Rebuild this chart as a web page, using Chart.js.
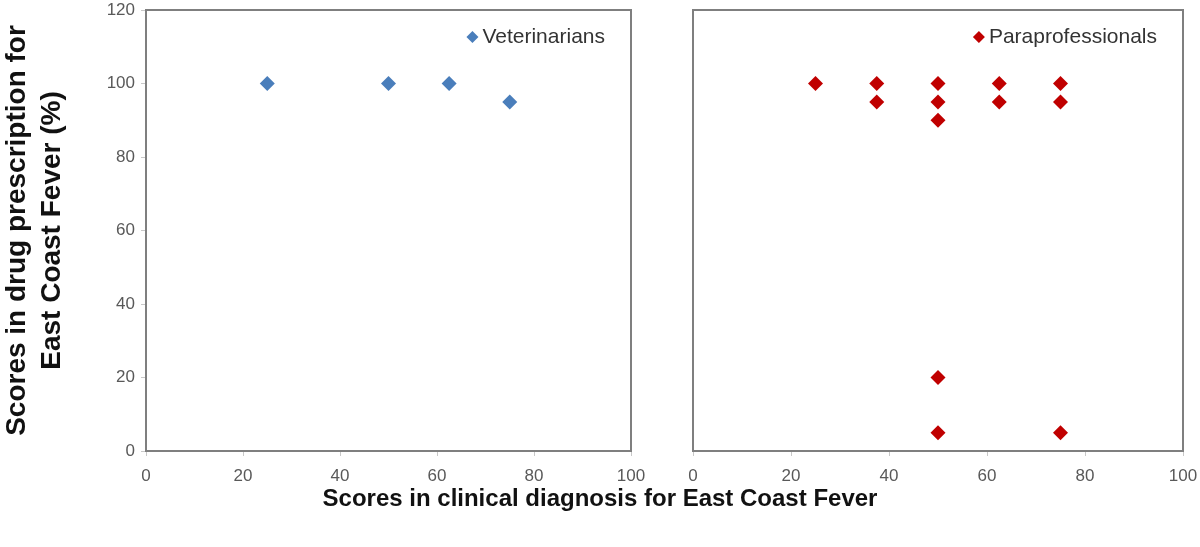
<!DOCTYPE html>
<html>
<head>
<meta charset="utf-8">
<script src="https://cdn.jsdelivr.net/npm/chart.js@4.4.1/dist/chart.umd.min.js"></script>
<style>
  html, body { margin: 0; padding: 0; background: #fff; }
  #wrap { position: relative; width: 1200px; height: 547px; overflow: hidden; }
  #c1 { position: absolute; left: 0; top: 0; }
  #c2 { position: absolute; left: 660px; top: 0; }
  #xtitle { position: absolute; left: 0; width: 1200px; top: 484px; text-align: center;
            font: bold 24px "Liberation Sans", Arial, sans-serif; color: #111; }
</style>
</head>
<body>
<div id="wrap">
  <canvas id="c1" width="650" height="547"></canvas>
  <canvas id="c2" width="540" height="547"></canvas>
  <div id="xtitle">Scores in clinical diagnosis for East Coast Fever</div>
</div>
<script>
// ---- data ----
const vetLabel = "Veterinarians";
const vetX = [25, 50, 62.5, 75];
const vetY = [100, 100, 100, 95];

const paraLabel = "Paraprofessionals";
const paraX = [25, 37.5, 37.5, 50, 50, 50, 62.5, 62.5, 75, 75, 50, 50, 75];
const paraY = [100, 100, 95, 100, 95, 90, 100, 95, 100, 95, 20, 5, 5];

const yTitle = ["Scores in drug prescription for", "East Coast Fever (%)"];
const xMin = 0, xMax = 100, xStep = 20;
const yMin = 0, yMax = 120, yStep = 20;

const FONT = "'Liberation Sans', Arial, sans-serif";
const tickColor = "#595959";
const frameColor = "#7f7f7f";

const framePlugin = {
  id: 'frame',
  afterDatasetsDraw(chart) {
    const a = chart.chartArea, ctx = chart.ctx;
    ctx.save();
    ctx.strokeStyle = frameColor;
    ctx.lineWidth = 2;
    ctx.strokeRect(a.left, a.top, a.right - a.left, a.bottom - a.top);
    ctx.restore();
  }
};

// legend drawn inside the plot, top right
const innerLegend = {
  id: 'innerLegend',
  afterDraw(chart) {
    const a = chart.chartArea, ctx = chart.ctx;
    const ds = chart.data.datasets[0];
    ctx.save();
    ctx.font = '21px ' + FONT;
    ctx.textBaseline = 'middle';
    ctx.textAlign = 'right';
    ctx.fillStyle = '#333';
    const tx = a.right - 26, ty = a.top + 27;
    ctx.fillText(ds.label, tx, ty);
    const w = ctx.measureText(ds.label).width;
    const mx = tx - w - 10, r = 6;
    ctx.fillStyle = ds.backgroundColor;
    ctx.beginPath();
    ctx.moveTo(mx, ty - r); ctx.lineTo(mx + r, ty); ctx.lineTo(mx, ty + r); ctx.lineTo(mx - r, ty);
    ctx.closePath(); ctx.fill();
    ctx.restore();
  }
};

function pts(xs, ys) { return xs.map((x, i) => ({ x: x, y: ys[i] })); }

function makeChart(id, label, xs, ys, color, showY, pad) {
  return new Chart(document.getElementById(id), {
    type: 'scatter',
    data: {
      datasets: [{
        label: label,
        data: pts(xs, ys),
        pointStyle: 'rectRot',
        pointRadius: 7.5,
        pointHoverRadius: 7.5,
        backgroundColor: color,
        borderColor: color,
        borderWidth: 0
      }]
    },
    options: {
      responsive: false,
      animation: false,
      events: [],
      layout: { padding: pad },
      plugins: {
        tooltip: { enabled: false },
        legend: { display: false }
      },
      scales: {
        x: {
          type: 'linear',
          min: xMin, max: xMax,
          ticks: { stepSize: xStep, color: tickColor, padding: 10, font: { family: FONT, size: 17 } },
          grid: { drawOnChartArea: false, tickLength: 5, color: '#c8c8c8' },
          border: { display: false },
          afterFit(s) { s.height = 40; s.paddingLeft = 0; s.paddingRight = 0; }
        },
        y: {
          type: 'linear',
          display: showY,
          min: yMin, max: yMax,
          ticks: { stepSize: yStep, color: tickColor, padding: 6, font: { family: FONT, size: 17 } },
          grid: { drawOnChartArea: false, tickLength: 5, color: '#c8c8c8' },
          border: { display: false },
          title: {
            display: true,
            text: yTitle,
            color: '#111',
            padding: { top: 0, bottom: 0 },
            font: { family: FONT, size: 28, weight: 'bold', lineHeight: 1.25 }
          },
          afterFit(s) {
            if (showY) { s.width = 146; s.paddingTop = 0; s.paddingBottom = 0; }
          }
        }
      }
    },
    plugins: [framePlugin, innerLegend]
  });
}

makeChart('c1', vetLabel, vetX, vetY, '#4a7ebb', true, { left: 0, right: 19, top: 10, bottom: 56 });
makeChart('c2', paraLabel, paraX, paraY, '#c00000', false, { left: 33, right: 17, top: 10, bottom: 56 });
</script>
</body>
</html>
